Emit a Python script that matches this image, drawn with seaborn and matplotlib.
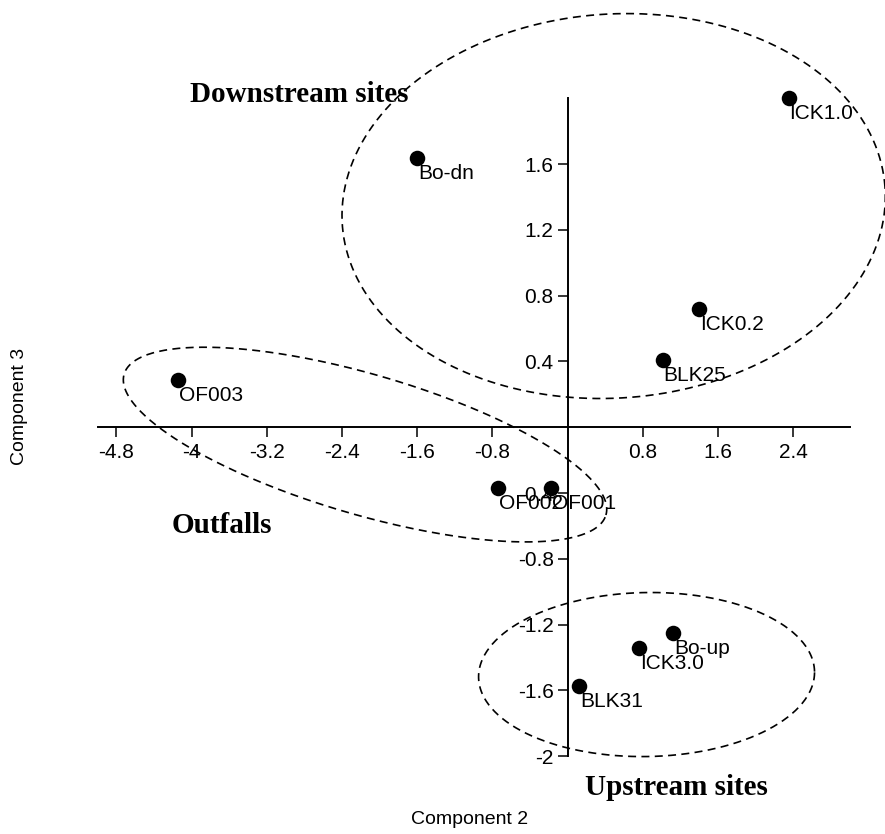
import numpy as np
import pandas as pd
import matplotlib
matplotlib.use("Agg")
import matplotlib.pyplot as plt
import seaborn as sns

# PCA site scores (Component 2 vs Component 3)
sites = ["ICK1.0", "Bo-dn", "ICK0.2", "BLK25", "OF003",
         "OF002", "OF001", "Bo-up", "ICK3.0", "BLK31"]
comp2 = [2.35, -1.60, 1.40, 1.01, -4.15, -0.74, -0.18, 1.12, 0.76, 0.12]
comp3 = [2.00, 1.64, 0.72, 0.41, 0.29, -0.37, -0.37, -1.25, -1.34, -1.57]

xticks = [-4.8, -4.0, -3.2, -2.4, -1.6, -0.8, 0.8, 1.6, 2.4]
xticklabels = ["-4.8", "-4", "-3.2", "-2.4", "-1.6", "-0.8", "0.8", "1.6", "2.4"]
yticks = [-2.0, -1.6, -1.2, -0.8, -0.4, 0.4, 0.8, 1.2, 1.6]
yticklabels = ["-2", "-1.6", "-1.2", "-0.8", "-0.4", "0.4", "0.8", "1.2", "1.6"]

# Group outlines: label, centre (data units), semi-axes (px), tilt (deg), label anchor
groups = [
    ("Downstream sites", (0.49, 1.345), 272, 192, 4.0, (-4.02, 1.975)),
    ("Outfalls", (-2.155, -0.105), 251, 70, -16.3, (-4.21, -0.645)),
    ("Upstream sites", (0.84, -1.503), 168, 82, 1.0, (0.185, -2.235)),
]

df = pd.DataFrame({"site": sites, "Component 2": comp2, "Component 3": comp3})

sns.set_style("ticks")
plt.rcParams["font.family"] = ["Liberation Sans", "DejaVu Sans"]

W, H = 885, 834
fig = plt.figure(figsize=(W / 100, H / 100), dpi=100)
ax = fig.add_axes([97.6 / W, 1 - 756.3 / H, 752.0 / W, 658.0 / H])
ax.set_xlim(-5.0, 3.0)
ax.set_ylim(-2.0, 2.0)

sns.scatterplot(data=df, x="Component 2", y="Component 3", ax=ax,
                color="black", s=125, edgecolor="black", linewidth=0,
                zorder=4, clip_on=False, legend=False)

for name, x, y in zip(sites, comp2, comp3):
    ax.annotate(name, (x, y), xytext=(1, -21), textcoords="offset pixels",
                ha="left", va="baseline", fontsize=15, color="black",
                zorder=5, annotation_clip=False)

# Axes crossing at the origin
for side in ["top", "right"]:
    ax.spines[side].set_visible(False)
ax.spines["left"].set_position(("data", 0))
ax.spines["bottom"].set_position(("data", 0))
for side in ["left", "bottom"]:
    ax.spines[side].set_linewidth(1.4)
    ax.spines[side].set_color("black")
    ax.spines[side].set_zorder(3)

ax.set_xticks(xticks)
ax.set_xticklabels(xticklabels)
ax.set_yticks(yticks)
ax.set_yticklabels(yticklabels)
ax.tick_params(axis="x", direction="out", length=7, width=1.1, pad=4,
               labelsize=15, colors="black")
ax.tick_params(axis="y", direction="out", length=7, width=1.1, pad=3,
               labelsize=15, colors="black")
ax.set_xlabel("")
ax.set_ylabel("")

# Dashed group outlines, defined in screen pixels around a data-space centre
t = np.linspace(0, 2 * np.pi, 400)
inv = ax.transData.inverted()
for label, centre, a, b, ang, lab_pos in groups:
    cx, cy = ax.transData.transform(centre)
    th = np.deg2rad(ang)
    px = cx + a * np.cos(t) * np.cos(th) - b * np.sin(t) * np.sin(th)
    py = cy + a * np.cos(t) * np.sin(th) + b * np.sin(t) * np.cos(th)
    pts = inv.transform(np.column_stack([px, py]))
    ax.plot(pts[:, 0], pts[:, 1], color="black", lw=1.2,
            dashes=(4.8, 3.2), clip_on=False, zorder=2)
    ax.text(lab_pos[0], lab_pos[1], label, ha="left", va="baseline",
            fontsize=21, fontweight="bold", family="Liberation Serif",
            color="black", zorder=5)

fig.text(470 / W, 1 - 819 / H, "Component 2", ha="center", va="center",
         fontsize=14, color="black")
fig.text(20 / W, 1 - 406 / H, "Component 3", ha="center", va="center",
         rotation=90, fontsize=14, color="black")

fig.savefig("out.png", dpi=100, facecolor="white")
